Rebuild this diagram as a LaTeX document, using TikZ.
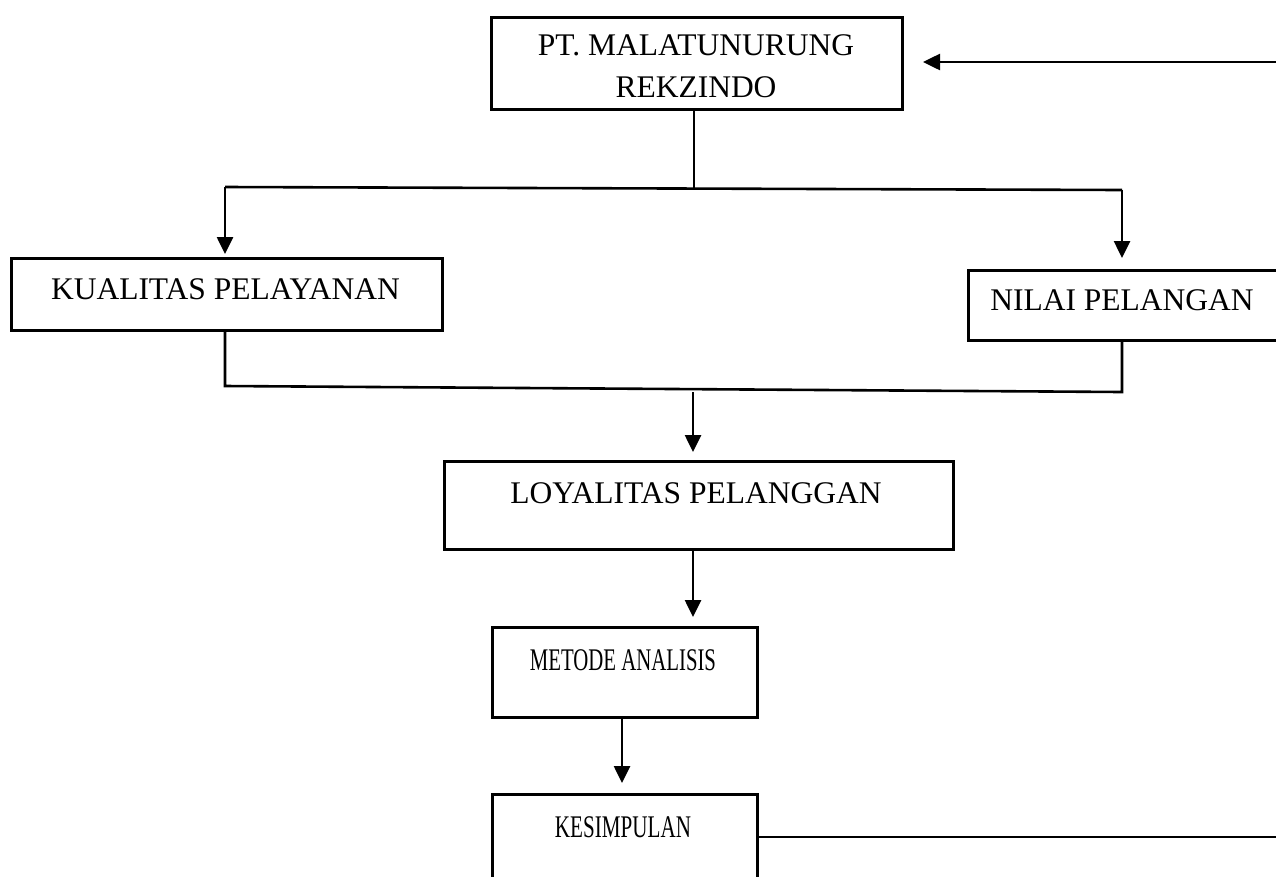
\documentclass[tikz,border=0pt]{standalone}
\usepackage{fontspec}
\setmainfont{Liberation Serif}
\usetikzlibrary{arrows.meta}
\begin{document}
\begin{tikzpicture}[x=1pt,y=-1pt,
  box/.style={draw, line width=2.9pt, inner sep=0pt, anchor=north west},
  lbl/.style={anchor=base, inner sep=0pt, font=\fontsize{31.5}{38}\selectfont},
  conn/.style={line width=2.6pt},
  arr/.style={conn, -{Triangle[length=17pt,width=16pt]}}]
\useasboundingbox (0,0) rectangle (1276,876);
\clip (0,0) rectangle (1276,876);
% boxes
\node[box, minimum width=411pt, minimum height=92pt] (pt) at (490,16) {};
\node[box, minimum width=431pt, minimum height=72pt] (kual) at (10,257) {};
\node[box, minimum width=312pt, minimum height=70pt] (nilai) at (967,269) {};
\node[box, minimum width=509pt, minimum height=88pt] (loy) at (443,460) {};
\node[box, minimum width=265pt, minimum height=90pt] (met) at (491,626) {};
\node[box, minimum width=265pt, minimum height=92pt] (kes) at (491,793) {};
% texts
\node[lbl] (ptA) at (696,55) {PT. MALATUNURUNG};
\node[lbl] (ptB) at (696,97) {REKZINDO};
\node[lbl] (kualT) at (225.5,299) {KUALITAS PELAYANAN};
\node[lbl] (nilaiT) at (1122,310) {NILAI PELANGAN};
\node[lbl] (loyT) at (696,503) {LOYALITAS PELANGGAN};
\node[lbl] (metT) at (623,670) {\scalebox{0.66}[1]{METODE ANALISIS}};
\node[lbl] (kesT) at (623,837) {\scalebox{0.67}[1]{KESIMPULAN}};
% connectors
\coordinate (j1) at (694,189);
\coordinate (jl) at (225,187);
\coordinate (jr) at (1122,190);
\coordinate (bl) at (225,386);
\coordinate (br) at (1122,392);
\coordinate (b1) at (693,392);
\coordinate (fbR) at (1276,62);
\coordinate (fbT) at (923,62);
\coordinate (kesR) at (1276,837);
\draw[conn] (j1 |- pt.south) -- (j1);
\draw[conn] (jl) -- (jr);
\draw[arr, shorten >=3pt] (jl) -- (jl |- kual.north);
\draw[arr, shorten >=11pt] (jr) -- (jr |- nilai.north);
\draw[conn] (bl |- kual.south) -- (bl) -- (br) -- (br |- nilai.south);
\draw[arr, shorten >=8pt] (b1) -- (b1 |- loy.north);
\draw[arr, shorten >=9pt] (b1 |- loy.south) -- (b1 |- met.north);
\draw[arr, shorten >=10pt] (met.south -| 622,0) -- (622,793);
\draw[conn] (kes.east |- kesR) -- (kesR);
\draw[arr] (fbR) -- (fbT);
\end{tikzpicture}
\end{document}
